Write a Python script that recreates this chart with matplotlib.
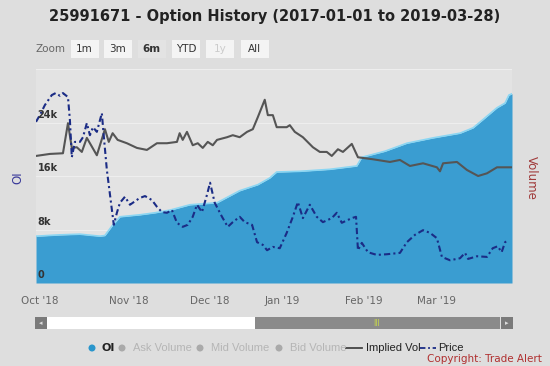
import numpy as np
import matplotlib
matplotlib.use("Agg")
import matplotlib.pyplot as plt
from matplotlib.patches import Rectangle, Circle
from matplotlib.lines import Line2D

# x is the trading-day index on the ordinal axis (0 = 28 Sep 2018)
month_idx = [1, 24, 45, 64, 85, 104]
month_lbl = ["Oct '18", "Nov '18", "Dec '18", "Jan '19", "Feb '19", "Mar '19"]

# OI (thousands)
oi_x = [0, 6.2, 11.4, 16.6, 17.9, 19.7, 21.8, 27.0, 30.9, 34.8, 40.0, 47.0, 52.9,
        57.6, 60.7, 62.5, 68.5, 76.3, 83.3, 84.6, 90.6, 96.3, 103.1, 110.1, 113.5,
        116.0, 119.7, 121.8, 122.8, 123.6]
oi_y = [7.0, 7.2, 7.3, 7.0, 7.1, 8.5, 9.9, 10.2, 10.5, 10.9, 11.7, 12.0, 13.8,
        14.7, 15.7, 16.6, 16.7, 17.0, 17.5, 18.8, 19.7, 20.9, 21.7, 22.4, 23.2,
        24.4, 26.2, 26.9, 28.1, 28.3]

# implied vol (drawn on OI scale)
iv_x = [0, 3.6, 7.0, 8.3, 9.3, 10.6, 11.9, 13.2, 15.8, 17.9, 18.9, 19.9, 21.2,
        23.6, 26.2, 28.8, 31.4, 34.0, 36.6, 37.3, 38.1, 39.2, 40.7, 42.0, 43.3,
        44.6, 45.9, 47.0, 49.6, 51.1, 52.9, 54.8, 56.3, 57.6, 59.4, 60.2, 61.5,
        62.5, 65.1, 65.9, 67.2, 69.3, 71.9, 73.7, 75.5, 76.8, 78.4, 79.7, 82.0,
        83.6, 87.5, 91.9, 94.5, 97.1, 100.5, 104.1, 104.9, 105.7, 109.3, 111.9,
        114.8, 117.1, 119.7, 123.6]
iv_y = [19.0, 19.3, 19.4, 23.9, 20.2, 20.3, 19.6, 21.7, 19.1, 23.0, 21.1, 22.4,
        21.4, 20.9, 20.2, 19.9, 20.9, 20.9, 21.1, 22.4, 21.4, 22.6, 20.6, 20.9,
        20.2, 21.1, 20.6, 21.4, 21.8, 22.1, 21.8, 22.6, 23.0, 24.8, 27.4, 25.1,
        25.1, 23.3, 23.3, 23.6, 22.6, 21.8, 20.3, 19.6, 19.6, 19.0, 20.0, 19.6,
        20.8, 18.8, 18.5, 18.1, 18.4, 17.5, 17.9, 17.3, 16.7, 17.9, 18.1, 16.9,
        16.0, 16.4, 17.3, 17.3]

# price (drawn on OI scale)
px_x = [0, 1.0, 2.3, 4.1, 5.1, 6.2, 7.0, 8.3, 8.8, 9.3, 10.1, 11.4, 12.2, 13.2,
        14.0, 14.8, 15.8, 17.1, 17.5, 18.4, 20.2, 21.0, 21.8, 23.1, 24.4, 26.9,
        28.3, 30.1, 31.4, 32.7, 34.0, 35.3, 36.6, 38.1, 39.4, 40.7, 41.8, 43.1,
        44.4, 45.2, 46.4, 48.3, 49.8, 51.1, 52.9, 54.2, 56.1, 57.4, 58.9, 60.0,
        61.5, 63.3, 65.1, 66.7, 68.0, 69.3, 71.1, 72.9, 74.5, 76.8, 78.1, 79.4,
        82.0, 83.1, 83.6, 84.6, 86.2, 88.5, 91.1, 94.5, 96.3, 98.4, 100.5, 102.3,
        104.1, 105.4, 107.5, 110.1, 111.4, 112.2, 114.5, 117.1, 118.6, 119.9,
        120.9, 121.8, 122.3]
px_y = [24.1, 25.1, 26.6, 28.1, 28.4, 28.0, 28.4, 27.8, 24.4, 18.8, 21.1, 21.1,
        21.8, 23.9, 22.1, 23.3, 22.6, 25.4, 22.6, 16.9, 8.7, 10.5, 12.0, 12.9,
        11.7, 12.7, 13.0, 12.4, 11.4, 10.6, 10.5, 10.9, 9.0, 8.4, 8.7, 9.9, 11.7,
        10.6, 13.2, 15.0, 12.0, 9.9, 8.4, 9.1, 9.9, 9.1, 8.7, 6.1, 5.7, 4.9, 5.4,
        5.2, 7.5, 9.9, 12.1, 9.7, 11.7, 9.9, 9.1, 9.7, 10.5, 9.0, 9.7, 9.9, 4.9,
        6.0, 4.6, 4.2, 4.3, 4.5, 6.1, 7.2, 7.9, 7.5, 6.7, 3.9, 3.4, 3.7, 4.5, 3.6,
        4.0, 3.9, 5.2, 5.5, 4.6, 6.1, 6.3]

W, H = 550, 366
fig = plt.figure(figsize=(5.5, 3.66), dpi=100, facecolor="#dedede")

# main plot area (pixel box: x 36..512, y 69..283)
ax = fig.add_axes([36 / W, 1 - 283 / H, 476 / W, 214 / H])
ax.set_facecolor("#e3e3e3")
ax.set_xlim(0, 123.6)
ax.set_ylim(0, 32)
for s in ax.spines.values():
    s.set_visible(False)

for g in [8, 16, 24, 32]:
    ax.axhline(g, color="#eeeeee", lw=0.8, zorder=1)

ax.fill_between(oi_x, oi_y, 0, color="#3a9dd1", lw=0, zorder=2)
ax.plot(oi_x, oi_y, color="#8ad6f3", lw=1.2, zorder=3)
ax.plot(iv_x, iv_y, color="#555555", lw=1.5, zorder=4)
ax.plot(px_x, px_y, color="#1b2c86", lw=1.5, ls=(0, (3, 1.5, 1, 1.5)), zorder=5)

ax.set_yticks([])
for v, t in zip([0, 8, 16, 24], ["0", "8k", "16k", "24k"]):
    ax.text(0.4, v + 0.4, t, fontsize=7, fontweight="bold", color="#333333",
            va="bottom", ha="left", zorder=6)

ax.set_xticks(month_idx)
ax.set_xticklabels(month_lbl, fontsize=7.5, color="#666666")
ax.tick_params(axis="x", length=0, pad=9)

# overlay for title, buttons, navigator and legend (pixel coords)
ov = fig.add_axes([0, 0, 1, 1])
ov.set_xlim(0, W)
ov.set_ylim(H, 0)
ov.axis("off")
ov.patch.set_visible(False)

ov.text(275, 17, "25991671 - Option History (2017-01-01 to 2019-03-28)",
        fontsize=10.5, fontweight="bold", color="#222222", ha="center", va="center")

ov.text(35, 49, "Zoom", fontsize=7.5, color="#666666", va="center")
btn_lbl = ["1m", "3m", "6m", "YTD", "1y", "All"]
btn_cx = [84.5, 118, 151.5, 186, 220, 254.5]
for cx, lb in zip(btn_cx, btn_lbl):
    sel = lb == "6m"
    ov.add_patch(Rectangle((cx - 14, 40), 28, 18,
                           facecolor="#e3e3e3" if sel else "#f4f4f4", lw=0))
    ov.text(cx, 49, lb, fontsize=7.5, ha="center", va="center",
            color="#cccccc" if lb == "1y" else "#333333",
            fontweight="bold" if sel else "normal")

ov.text(18, 178, "OI", fontsize=8.5, color="#3a3a9a", rotation=90,
        ha="center", va="center")
ov.text(531, 178, "Volume", fontsize=8.5, color="#a03a3a", rotation=-90,
        ha="center", va="center")

# navigator scrollbar
ov.add_patch(Rectangle((35, 317), 12, 12, facecolor="#7a7a7a", lw=0))
ov.add_patch(Rectangle((47, 317), 208, 12, facecolor="#ffffff", lw=0))
ov.add_patch(Rectangle((255, 317), 245, 12, facecolor="#8a8a8a", lw=0))
ov.add_patch(Rectangle((501, 317), 12, 12, facecolor="#7a7a7a", lw=0))
ov.text(41, 323, "\u25c2", fontsize=5, color="#dddddd", ha="center", va="center")
ov.text(507, 323, "\u25b8", fontsize=5, color="#dddddd", ha="center", va="center")
ov.text(377, 323, "III", fontsize=5.5, color="#c8d84a", ha="center", va="center")

# legend
ly = 348
ov.add_patch(Circle((92, ly), 3.5, color="#2a96cc", lw=0))
ov.text(101, ly, "OI", fontsize=8, fontweight="bold", color="#222222", va="center")
for cx, lb in zip([122, 200, 279], ["Ask Volume", "Mid Volume", "Bid Volume"]):
    ov.add_patch(Circle((cx, ly), 3.5, color="#aaaaaa", lw=0))
    ov.text(cx + 11, ly, lb, fontsize=8, color="#b5b5b5", va="center",
            family="Liberation Sans")
ov.add_line(Line2D([346, 362], [ly, ly], color="#444444", lw=1.3))
ov.text(366, ly, "Implied Vol", fontsize=8, color="#222222", va="center",
        family="Liberation Sans")
ov.add_line(Line2D([420, 436], [ly, ly], color="#1b2c86", lw=1.3,
                   ls=(0, (3, 1.5, 1, 1.5))))
ov.text(438, ly, "Price", fontsize=8, color="#222222", va="center",
        family="Liberation Sans")
ov.text(542, 359, "Copyright: Trade Alert", fontsize=7.5, color="#b03030",
        ha="right", va="center")

fig.savefig("out.png", dpi=100, facecolor=fig.get_facecolor())
